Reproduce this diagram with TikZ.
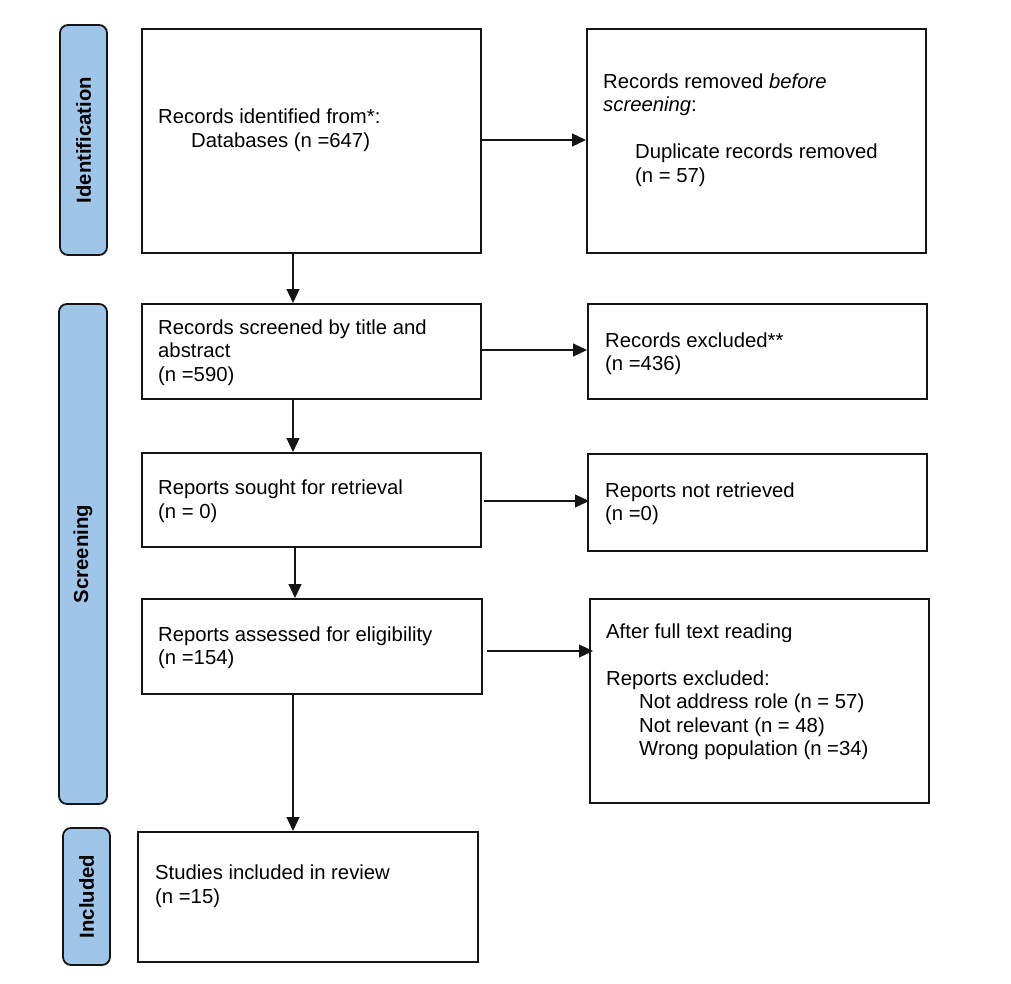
\documentclass[tikz,border=0pt]{standalone}
\usepackage{fontspec}
\setmainfont{Liberation Sans}
\usetikzlibrary{arrows.meta}
\definecolor{barblue}{HTML}{9FC5E8}
\definecolor{ink}{HTML}{151515}
\begin{document}
\begin{tikzpicture}[x=1pt,y=-1pt,
  box/.style={draw=ink,line width=2pt,inner sep=0pt,fill=white},
  bar/.style={draw=ink,line width=1.8pt,fill=barblue,rounded corners=8pt,rotate=90,inner sep=0pt,
    font=\fontsize{20.3}{23.5}\selectfont\bfseries},
  txt/.style={anchor=base west,inner sep=0pt,font=\fontsize{20.3}{23.5}\selectfont},
  arr/.style={draw=ink,line width=1.2pt,-{Triangle[length=14pt,width=13pt]}}]
\useasboundingbox (0,0) rectangle (1011,983);
% phase bars
\node[bar,minimum width=230,minimum height=47] (idbar) at (83.5,140) {Identification};
\node[bar,minimum width=500,minimum height=48] (scrbar) at (83,554) {Screening};
\node[bar,minimum width=137,minimum height=47] (incbar) at (86.5,896.5) {Included};
% boxes
\node[box,minimum width=339,minimum height=224] (b1) at (311.5,141) {};
\node[box,minimum width=339,minimum height=224] (b2) at (756.5,141) {};
\node[box,minimum width=339,minimum height=95] (b3) at (311.5,351.5) {};
\node[box,minimum width=339,minimum height=95] (b6) at (757.5,351.5) {};
\node[box,minimum width=339,minimum height=94] (b4) at (311.5,500) {};
\node[box,minimum width=339,minimum height=97] (b7) at (757.5,502.5) {};
\node[box,minimum width=340,minimum height=95] (b5) at (312,646.5) {};
\node[box,minimum width=339,minimum height=204] (b8) at (759.5,701) {};
\node[box,minimum width=340,minimum height=130] (b9) at (308,897) {};
% texts
\node[txt] (t1) at (158,123.5) {\begin{tabular}[t]{@{}l@{}}Records identified from*:\\\hspace*{33pt}Databases (n =647)\end{tabular}};
\node[txt] (t2) at (603,88) {\begin{tabular}[t]{@{}l@{}}Records removed \textit{before}\\\textit{screening}:\\[23.5pt]\hspace*{32pt}Duplicate records removed\\\hspace*{32pt}(n = 57)\end{tabular}};
\node[txt] (t3) at (158,334) {\begin{tabular}[t]{@{}l@{}}Records screened by title and\\abstract\\(n =590)\end{tabular}};
\node[txt] (t6) at (605,347) {\begin{tabular}[t]{@{}l@{}}Records excluded**\\(n =436)\end{tabular}};
\node[txt] (t4) at (158,494.5) {\begin{tabular}[t]{@{}l@{}}Reports sought for retrieval\\(n = 0)\end{tabular}};
\node[txt] (t7) at (605,497) {\begin{tabular}[t]{@{}l@{}}Reports not retrieved\\(n =0)\end{tabular}};
\node[txt] (t5) at (158,641) {\begin{tabular}[t]{@{}l@{}}Reports assessed for eligibility\\(n =154)\end{tabular}};
\node[txt] (t8) at (606,638) {\begin{tabular}[t]{@{}l@{}}After full text reading\\[23.5pt]Reports excluded:\\\hspace*{33pt}Not address role (n = 57)\\\hspace*{33pt}Not relevant (n = 48)\\\hspace*{33pt}Wrong population (n =34)\end{tabular}};
\node[txt] (t9) at (155,879.5) {\begin{tabular}[t]{@{}l@{}}Studies included in review\\(n =15)\end{tabular}};
% connectors
\coordinate (vx) at (293,0);
\coordinate (vy) at (295,0);
\draw[arr] (b1.south -| vx) -- (b3.north -| vx);
\draw[arr] (b3.south -| vx) -- (b4.north -| vx);
\draw[arr] (b4.south -| vy) -- (b5.north -| vy);
\draw[arr] (b5.south -| vx) -- (b9.north -| vx);
\draw[arr] ([yshift=1pt]b1.east) -- ([yshift=1pt]b1.east -| b2.west);
\draw[arr] ([yshift=1.5pt]b3.east) -- ([yshift=1.5pt]b3.east -| b6.west);
\draw[arr] ([shift={(2,1)}]b4.east) -- ([shift={(2,1)}]b4.east -| b7.west);
\draw[arr] ([shift={(4,4.5)}]b5.east) -- ([shift={(4,4.5)}]b5.east -| b8.west);
\end{tikzpicture}
\end{document}
